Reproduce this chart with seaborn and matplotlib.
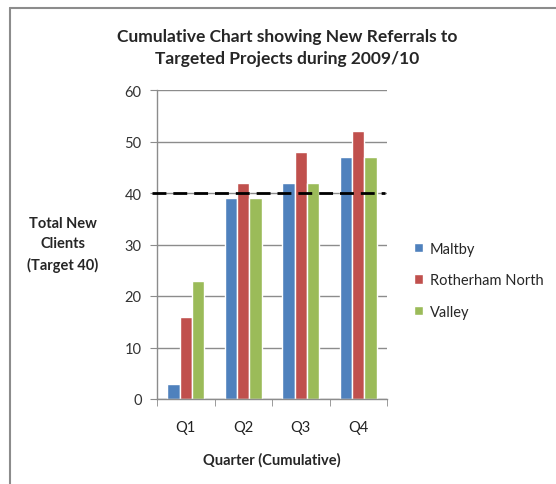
import matplotlib
matplotlib.use("Agg")
import matplotlib.pyplot as plt
from matplotlib.lines import Line2D
import seaborn as sns
import pandas as pd

quarters = ["Q1", "Q2", "Q3", "Q4"]
maltby = [3, 39, 42, 47]
rotherham_north = [16, 42, 48, 52]
valley = [23, 39, 42, 47]
series_names = ["Maltby", "Rotherham North", "Valley"]
target = 40
y_ticks = [0, 10, 20, 30, 40, 50, 60]

df = pd.DataFrame({
    "Quarter": quarters * 3,
    "Project": [series_names[0]] * 4 + [series_names[1]] * 4 + [series_names[2]] * 4,
    "Value": maltby + rotherham_north + valley,
})

sns.set_style("white")
plt.rcParams["font.family"] = ["Lato", "DejaVu Sans"]

colors = ["#4F81BD", "#C0504D", "#9BBB59"]
fig = plt.figure(figsize=(5.56, 4.85), dpi=100)
ax = fig.add_axes([157/556, 1 - 400/485, 230/556, 309/485])

sns.barplot(data=df, x="Quarter", y="Value", hue="Project", palette=colors,
            width=0.65, gap=0, ax=ax, saturation=1, legend=True)

ax.set_ylim(0, 60)
ax.set_xlim(-0.5, 3.5)
ax.set_yticks(y_ticks)
ax.yaxis.grid(True, color="#8C8C8C", linewidth=1)
ax.set_axisbelow(True)
for s in ["top", "right"]:
    ax.spines[s].set_visible(False)
for s in ["left", "bottom"]:
    ax.spines[s].set_color("#8C8C8C")
    ax.spines[s].set_linewidth(1)

ax.tick_params(axis="y", length=5, color="#8C8C8C", labelsize=10.5, labelcolor="#333333", pad=6, left=True)
ax.tick_params(axis="x", which="major", length=0, labelsize=10.5, labelcolor="#222222", pad=15)
ax.set_xticks([-0.5, 0.5, 1.5, 2.5, 3.5], minor=True)
ax.tick_params(axis="x", which="minor", length=5, color="#8C8C8C", bottom=True)

ax.plot([-0.59, 3.46], [target, target], color="black", linewidth=2,
        linestyle=(0, (5, 2.5)), clip_on=False, zorder=5)

ax.set_xlabel("Quarter (Cumulative)", fontsize=10.5, fontweight="bold", labelpad=13)
ax.set_ylabel("")
fig.text(63/556, 1 - 245/485, "Total New\nClients\n(Target 40)", ha="center", va="center",
         fontsize=10.5, fontweight="bold", linespacing=1.55)

fig.text(287/556, 1 - 48/485, "Cumulative Chart showing New Referrals to\nTargeted Projects during 2009/10",
         ha="center", va="center", fontsize=12.5, fontweight="bold", linespacing=1.5)

handles, labels = ax.get_legend_handles_labels()
ax.legend(handles, labels, loc="center left", bbox_to_anchor=(1.06, 0.385), frameon=False,
          fontsize=10.5, handlelength=0.6, handleheight=0.6, handletextpad=0.5, labelspacing=1.2)

fig.add_artist(Line2D([10/556, 10/556], [0, 1 - 9/485], color="#8C8C8C", linewidth=1.5))
fig.add_artist(Line2D([10/556, 1], [1 - 9/485, 1 - 9/485], color="#8C8C8C", linewidth=1.5))

fig.savefig("out.png", dpi=100)
